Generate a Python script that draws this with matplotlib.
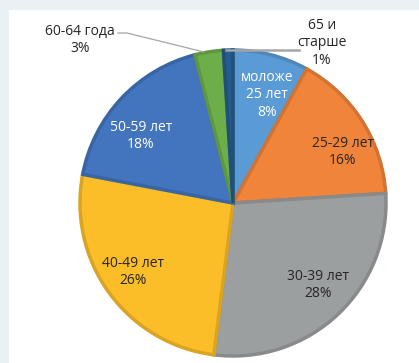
import matplotlib
matplotlib.use("Agg")
import matplotlib.pyplot as plt
from matplotlib.patches import Rectangle
from matplotlib.colors import to_rgb

plt.rcParams['font.family'] = ['Open Sans', 'DejaVu Sans']

groups = ['моложе\n25 лет', '25-29 лет', '30-39 лет', '40-49 лет',
          '50-59 лет', '60-64 года', '65 и\nстарше']
shares = [8, 16, 28, 26, 18, 3, 1]
colors = ['#5b9bd5', '#f0843a', '#9c9fa0', '#fbbd28', '#4374be', '#6dae4a', '#255c8c']
text_colors = ['white', '#262626', '#262626', '#262626', 'white', '#262626', '#262626']

W, H = 419, 363
fig = plt.figure(figsize=(W / 100, H / 100), dpi=100, facecolor='#e9f1f4')
ax = fig.add_axes([0, 0, 1, 1])

# white panel behind the chart
ax.add_patch(Rectangle((9, 0), W - 9, H - 10, facecolor='white', edgecolor='none', zorder=0))

cx, cy, R = 233, H - 203, 153


def darker(c, f=0.87):
    return tuple(v * f for v in to_rgb(c))


wedges, _ = ax.pie(shares, colors=colors, startangle=90, counterclock=False,
                   center=(cx, cy), radius=R, frame=True,
                   wedgeprops=dict(linewidth=2.5))
for w, c in zip(wedges, colors):
    w.set_edgecolor(darker(c))
    w.set_zorder(2)
ax.set_xlim(0, W)
ax.set_ylim(0, H)
ax.set_aspect('equal')
ax.axis('off')

# label anchor points (pixel coordinates, y from top)
label_pos = [(267, 95), (343, 152), (318, 285), (133, 272), (141, 136), (80, 40), (322, 43)]
for name, val, (x, y), tc in zip(groups, shares, label_pos, text_colors):
    ax.text(x, H - y, f'{name}\n{val}%', ha='center', va='center', color=tc,
            fontsize=10, linespacing=1.25, zorder=5)

# leader lines for the two thin slices
ax.plot([118, 127, 204], [H - 33, H - 33, H - 52], color='#a6a6a6', lw=0.9, zorder=4)
ax.plot([226, 299], [H - 50, H - 50], color='#a6a6a6', lw=1.8, zorder=4)

fig.savefig('out.png', dpi=100, facecolor=fig.get_facecolor())
